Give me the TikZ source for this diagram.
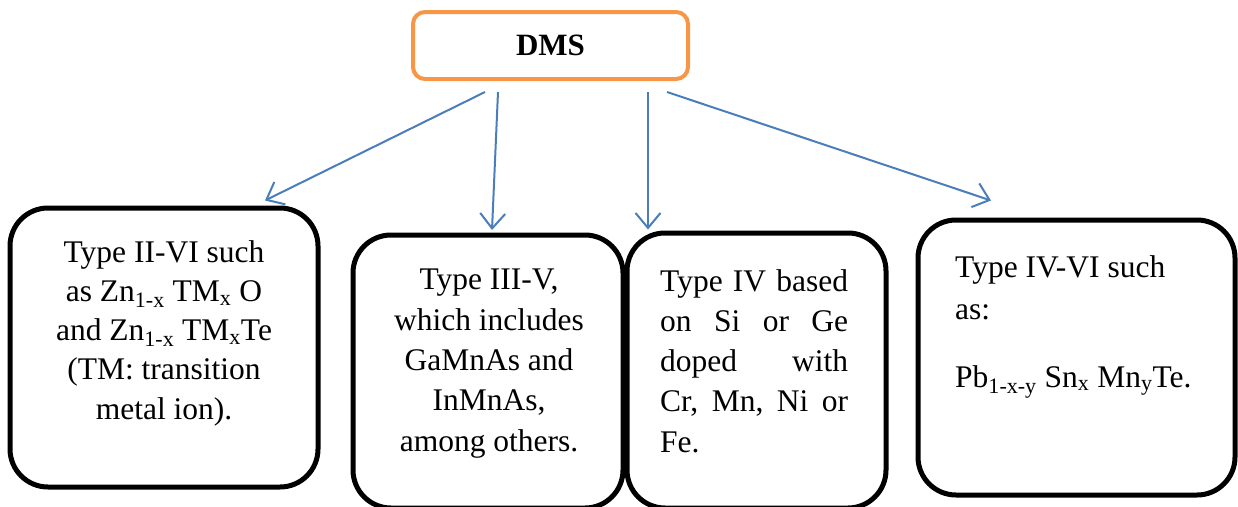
\documentclass[tikz,border=0pt]{standalone}
\usepackage{fontspec}
\setmainfont{Liberation Serif}
\usetikzlibrary{arrows.meta}
\definecolor{dmsorange}{RGB}{247,150,70}
\definecolor{arrowblue}{RGB}{74,126,187}
\newcommand{\jline}[1]{\hbox to 188pt{#1}}
\begin{document}
\begin{tikzpicture}[x=1pt,y=-1pt,
  catbox/.style={draw=black, line width=5pt, rounded corners=38pt, inner sep=0pt},
  rootbox/.style={draw=dmsorange, line width=4pt, rounded corners=12pt, inner sep=0pt},
  link/.style={draw=arrowblue, line width=2pt, -{Straight Barb[length=15pt,width=25pt,line width=2pt]}},
  txt/.style={inner sep=0pt, font=\fontsize{31.5}{39.3}\selectfont}]
\useasboundingbox (0,0) rectangle (1238,506);
\node[rootbox, minimum width=275pt, minimum height=67pt, font=\fontsize{31}{37}\selectfont\bfseries] (dms) at (550.5,45.5) {DMS};
\node[catbox, minimum width=308pt, minimum height=279pt] (b1) at (164,347.5) {};
\node[catbox, minimum width=270pt, minimum height=273pt] (b2) at (488,371.5) {};
\node[catbox, minimum width=259pt, minimum height=275pt] (b3) at (756.5,370.5) {};
\node[catbox, minimum width=317pt, minimum height=275pt] (b4) at (1076.5,357.5) {};
\node[txt, align=center, anchor=north] (t1) at (164,240) {Type II-VI such\\as Zn\textsubscript{1-x} TM\textsubscript{x} O\\and Zn\textsubscript{1-x} TM\textsubscript{x}Te\\(TM: transition\\metal ion).};
\node[txt, align=center, anchor=north, font=\fontsize{31.5}{40.3}\selectfont] (t2) at (489,269) {Type III-V,\\which includes\\GaMnAs and\\InMnAs,\\among others.};
\node[txt, align=left, anchor=north west, font=\fontsize{31.5}{40.3}\selectfont] (t3) at (660,269) {\jline{Type\hfill IV\hfill based}\\\jline{on\hfill Si\hfill or\hfill Ge}\\\jline{doped\hfill with}\\\jline{Cr,\hfill Mn,\hfill Ni\hfill or}\\Fe.};
\node[txt, align=left, anchor=north west, font=\fontsize{31.5}{42}\selectfont] (t4) at (955,255) {Type IV-VI such\\as:\\[26pt]Pb\textsubscript{1-x-y} Sn\textsubscript{x} Mn\textsubscript{y}Te.};
\draw[link] ([shift={(-65.5pt,-11pt)}]dms.south) -- ([shift={(101pt,5pt)}]b1.north);
\draw[link] ([shift={(-52.5pt,-11pt)}]dms.south) -- ([shift={(4pt,2.5pt)}]b2.north);
\draw[link] ([shift={(97.5pt,-11pt)}]dms.south) -- ([shift={(-108.5pt,1pt)}]b3.north);
\draw[link] ([shift={(116.5pt,-11pt)}]dms.south) -- ([shift={(-85.5pt,17pt)}]b4.north);
\end{tikzpicture}
\end{document}
